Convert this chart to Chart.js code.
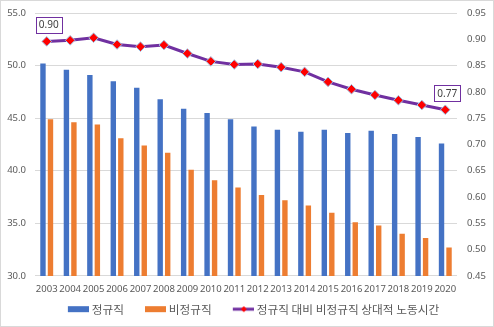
<!DOCTYPE html>
<html>
<head>
<meta charset="utf-8">
<script src="https://cdn.jsdelivr.net/npm/chart.js@4/dist/chart.umd.min.js"></script>
<style>
  html, body { margin: 0; padding: 0; background: #fff; }
  #wrap { width: 492px; height: 325px; border: 1px solid #d9d9d9; position: relative; }
</style>
</head>
<body>
<div id="wrap"><canvas id="hoursChart" width="492" height="325"></canvas></div>
<script>
// 연도별 주당 노동시간 (정규직 / 비정규직) 과 상대비율
const years = ['2003', '2004', '2005', '2006', '2007', '2008', '2009', '2010', '2011',
               '2012', '2013', '2014', '2015', '2016', '2017', '2018', '2019', '2020'];
const regular = [50.2, 49.6, 49.1, 48.5, 47.9, 46.8, 45.9, 45.5, 44.9,
                 44.2, 43.9, 43.7, 43.9, 43.6, 43.8, 43.5, 43.2, 42.6];
const nonRegular = [44.9, 44.6, 44.4, 43.1, 42.4, 41.7, 40.1, 39.1, 38.4,
                    37.7, 37.2, 36.7, 36.0, 35.1, 34.8, 34.0, 33.6, 32.7];
const ratio = [0.896, 0.898, 0.903, 0.890, 0.886, 0.889, 0.873, 0.858, 0.852,
               0.853, 0.847, 0.838, 0.819, 0.805, 0.794, 0.784, 0.775, 0.766];
const labelledPoints = [0, ratio.length - 1];

const FONT = '"Noto Sans CJK KR", "Noto Sans", sans-serif';
const TICK_FONT = '"Noto Sans", sans-serif';
const GREY = '#595959';

// legend swatch geometry: the point-style slot is LEAD px of blank space
// followed by the 21px swatch, which ends 3px before the text
const LEAD = 10;
const SLOT = 21 + LEAD;
const LEGEND_SIZE = 11.7;

function makeSwatch(drawFn) {
  const c = document.createElement('canvas');
  c.width = SLOT + 6; c.height = 10;
  const g = c.getContext('2d');
  const right = SLOT / 2 + c.width / 2 + LEGEND_SIZE / 2 - 3;
  drawFn(g, Math.round(right - 21));
  return c;
}
function boxSwatch(color) {
  return makeSwatch((g, x0) => {
    g.fillStyle = color;
    g.fillRect(x0, 2, 21, 6);
  });
}
function lineSwatch() {
  return makeSwatch((g, x0) => {
    g.strokeStyle = '#7030A0';
    g.lineWidth = 3;
    g.beginPath(); g.moveTo(x0, 5); g.lineTo(x0 + 22, 5); g.stroke();
    g.fillStyle = '#ff0000';
    const m = x0 + 11;
    g.beginPath(); g.moveTo(m, 2); g.lineTo(m + 3, 5); g.lineTo(m, 8); g.lineTo(m - 3, 5); g.closePath(); g.fill();
  });
}

// y axes: no extra label overhang above/below the plot
const flushAxis = width => scale => {
  scale.width = width;
  scale.paddingTop = 0;
  scale.paddingBottom = 0;
};

// boxed value labels on the first and last point of the line
const boxLabels = {
  id: 'boxLabels',
  afterDatasetsDraw(chart) {
    const meta = chart.getDatasetMeta(2);
    const ctx = chart.ctx;
    ctx.save();
    ctx.font = '10px ' + TICK_FONT;
    ctx.textAlign = 'center';
    ctx.textBaseline = 'middle';
    labelledPoints.forEach(i => {
      const pt = meta.data[i];
      const txt = ratio[i].toFixed(2);
      const w = 26, h = 16;
      const cx = pt.x + 2, cy = pt.y - 16.5;
      ctx.fillStyle = '#fff';
      ctx.fillRect(cx - w / 2, cy - h / 2, w, h);
      ctx.strokeStyle = '#7030A0';
      ctx.lineWidth = 1;
      ctx.strokeRect(Math.round(cx - w / 2) + 0.5, Math.round(cy - h / 2) + 0.5, w, h);
      ctx.fillStyle = '#404040';
      ctx.fillText(txt, cx, cy + 0.5);
    });
    ctx.restore();
  }
};

new Chart(document.getElementById('hoursChart'), {
  data: {
    labels: years,
    datasets: [{
      type: 'bar',
      label: '정규직',
      data: regular,
      backgroundColor: '#4472C4',
      yAxisID: 'y',
      categoryPercentage: 0.64,
      barPercentage: 0.72
    }, {
      type: 'bar',
      label: '비정규직',
      data: nonRegular,
      backgroundColor: '#ED7D31',
      yAxisID: 'y',
      categoryPercentage: 0.64,
      barPercentage: 0.72
    }, {
      type: 'line',
      label: '정규직 대비 비정규직 상대적 노동시간',
      data: ratio,
      yAxisID: 'y1',
      order: -1,
      borderColor: '#7030A0',
      borderWidth: 3,
      tension: 0,
      pointStyle: 'rectRot',
      pointRadius: 4.8,
      pointBackgroundColor: '#ff0000',
      pointBorderColor: '#9DC3E6',
      pointBorderWidth: 1
    }]
  },
  options: {
    responsive: false,
    animation: false,
    layout: { padding: { left: 0, right: 0, top: 12, bottom: 1 } },
    plugins: {
      tooltip: { enabled: false },
      legend: {
        position: 'bottom',
        labels: {
          font: { family: FONT, size: LEGEND_SIZE },
          color: GREY,
          usePointStyle: true,
          pointStyleWidth: SLOT,
          boxHeight: 10,
          padding: 8,
          sort: (a, b) => a.datasetIndex - b.datasetIndex,
          generateLabels(chart) {
            const styles = [boxSwatch('#4472C4'), boxSwatch('#ED7D31'), lineSwatch()];
            return chart.data.datasets.map((ds, i) => ({
              text: ds.label,
              datasetIndex: i,
              pointStyle: styles[i],
              fontColor: GREY,
              hidden: false,
              lineWidth: 0
            }));
          }
        }
      }
    },
    scales: {
      x: {
        grid: { display: false },
        border: { display: false },
        ticks: { font: { family: TICK_FONT, size: 9.5 }, color: GREY, maxRotation: 0, autoSkip: false, padding: 0 }
      },
      y: {
        position: 'left',
        min: 30, max: 55,
        grid: { color: '#d9d9d9', drawTicks: false },
        border: { display: false },
        afterFit: flushAxis(34),
        ticks: {
          stepSize: 5,
          padding: 9,
          font: { family: TICK_FONT, size: 9.5 }, color: GREY,
          callback: v => v.toFixed(1)
        }
      },
      y1: {
        position: 'right',
        min: 0.45, max: 0.95,
        grid: { display: false, drawTicks: false },
        border: { display: false },
        afterFit: flushAxis(36),
        ticks: {
          stepSize: 0.05,
          padding: 10,
          font: { family: TICK_FONT, size: 9.5 }, color: GREY,
          callback: v => v.toFixed(2)
        }
      }
    }
  },
  plugins: [boxLabels]
});
</script>
</body>
</html>
